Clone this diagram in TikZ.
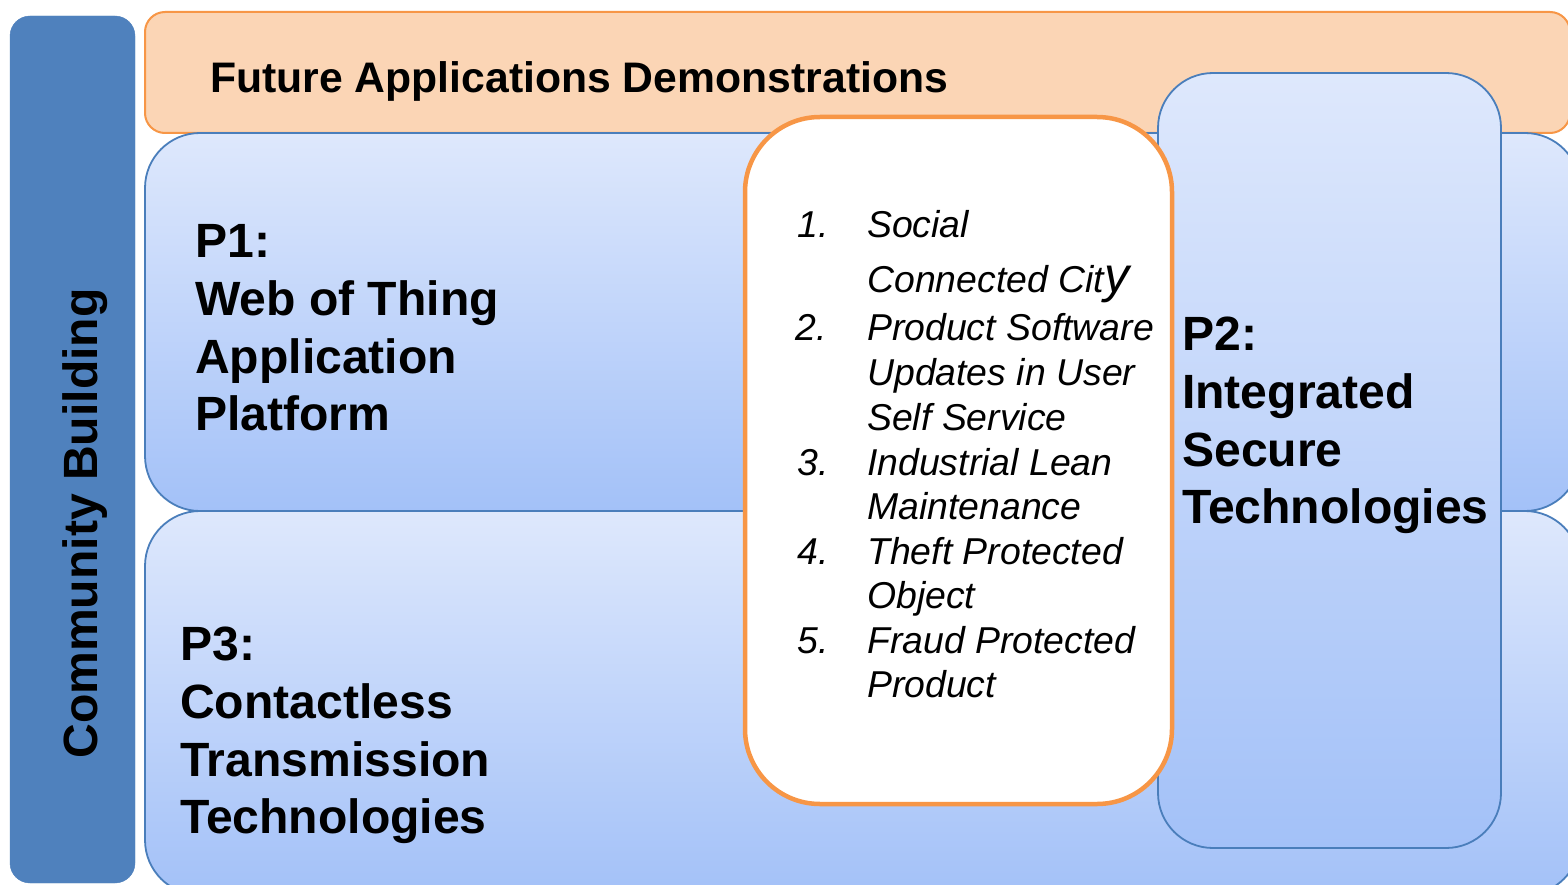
\documentclass[tikz,border=0pt]{standalone}
\usepackage{fontspec}
\setmainfont{Liberation Sans}
\definecolor{cbblue}{HTML}{4F81BD}
\definecolor{edgeblue}{HTML}{4A7EBB}
\definecolor{orfill}{HTML}{FBD5B5}
\definecolor{orline}{HTML}{F79646}
\definecolor{gtop}{RGB}{222,232,252}
\definecolor{gbot}{RGB}{163,193,248}
\begin{document}
\begin{tikzpicture}[x=1pt,y=-1pt,
  pbox/.style={draw=edgeblue, line width=1.8pt, top color=gtop, bottom color=gbot, rounded corners=55pt},
  big/.style={font=\fontsize{48.1}{57}\selectfont\bfseries, anchor=base west, inner sep=0pt},
  item/.style={font=\fontsize{37.4}{45}\selectfont\itshape, anchor=base west, inner sep=0pt},
]
\useasboundingbox (0,0) rectangle (1568,885);
\clip (0,0) rectangle (1568,885);
\fill[white] (0,0) rectangle (1568,885);
% shapes
\path[draw=cbblue, fill=cbblue, rounded corners=20pt] (10,16) rectangle (135,883);
\path[draw=orline, line width=2pt, fill=orfill, rounded corners=20pt] (145,12) rectangle (1570,133);
\path[pbox] (145,133) rectangle (1580,511);
\path[pbox] (145,511) rectangle (1580,895);
\path[pbox] (1158,73) rectangle (1501,848);
\path[draw=orline, line width=4.5pt, fill=white, rounded corners=75pt] (745,117) rectangle (1172,804);
% header
\node[font=\fontsize{42.7}{51}\selectfont\bfseries, anchor=base west, inner sep=0pt] (fad) at (210,93) {Future Applications Demonstrations};
% side bar
\node[big, rotate=90, anchor=base] (cb) at (97,523.5) {Community Building};
% P1
\node[big] (p1a) at (195,258) {P1:};
\node[big] (p1b) at (195,315) {Web of Thing};
\node[big] (p1c) at (195,373) {Application};
\node[big] (p1d) at (195,430) {Platform};
% P3
\node[big] (p3a) at (180,660) {P3:};
\node[big] (p3b) at (180,718) {Contactless};
\node[big] (p3c) at (180,776) {Transmission};
\node[big] (p3d) at (180,833) {Technologies};
% P2
\node[big] (p2a) at (1182,350) {P2:};
\node[big] (p2b) at (1182,408) {Integrated};
\node[big] (p2c) at (1182,466) {Secure};
\node[big] (p2d) at (1182,523) {Technologies};
% list
\node[item] (n1) at (797,238) {1.};
\node[item] (t1a) at (867,238) {Social};
\node[item] (t1b) at (867,292) {Connected Cit{\fontsize{50}{50}\selectfont y}};
\node[item] (n2) at (795,340) {2.};
\node[item] (t2a) at (867,340) {Product Software};
\node[item] (t2b) at (867,385) {Updates in User};
\node[item] (t2c) at (867,430) {Self Service};
\node[item] (n3) at (797,475) {3.};
\node[item] (t3a) at (867,475) {Industrial Lean};
\node[item] (t3b) at (867,519) {Maintenance};
\node[item] (n4) at (797,564) {4.};
\node[item] (t4a) at (867,564) {Theft Protected};
\node[item] (t4b) at (867,608) {Object};
\node[item] (n5) at (797,653) {5.};
\node[item] (t5a) at (867,653) {Fraud Protected};
\node[item] (t5b) at (867,697) {Product};
\end{tikzpicture}
\end{document}
